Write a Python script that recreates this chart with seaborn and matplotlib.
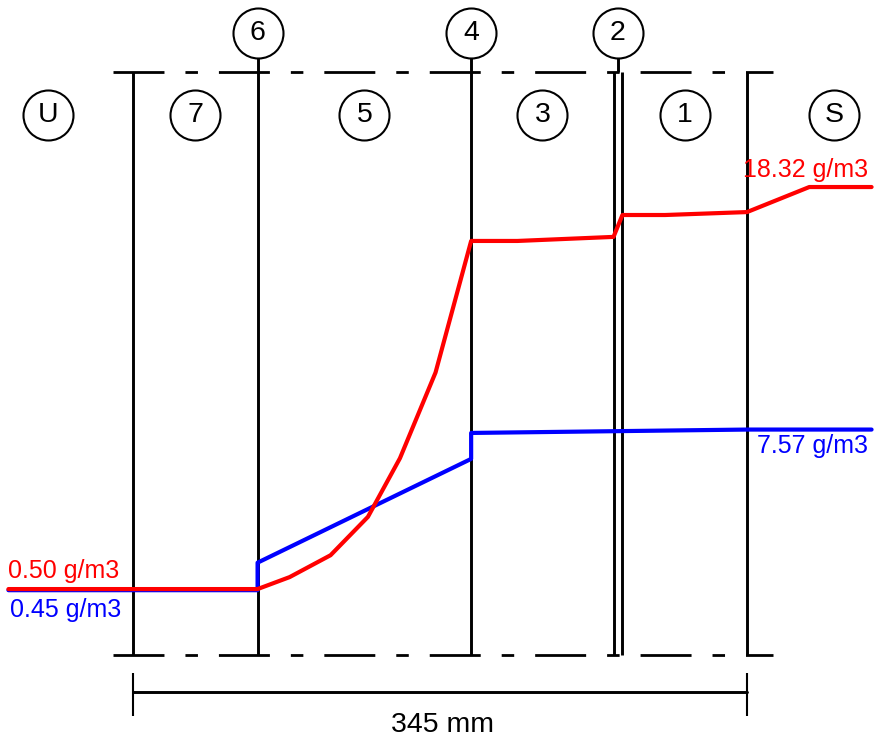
import numpy as np
import matplotlib.pyplot as plt
import seaborn as sns

# wall layers from outside (U) to inside (S), thickness in mm
layer_names = ['7', '5', '3', '2', '1']
layer_mm = [70, 120, 80, 5, 70]
foil_names = ['6', '4']          # thin foils, drawn as single lines
side_mm = 70                     # air zone shown on each side

# red: saturation vapour content, blue: actual vapour content (g/m3)
red_x = [-70, 70, 88, 111, 132, 150, 170, 190, 216, 270, 275, 299, 345, 380, 415]
red_y = [0.50, 0.50, 1.03, 2.0, 3.7, 6.3, 10.1, 15.93, 15.93, 16.11, 17.08, 17.08, 17.21, 18.32, 18.32]
blue_x = [-70, 70, 70, 190, 190, 345, 415]
blue_y = [0.45, 0.45, 1.67, 6.27, 7.42, 7.57, 7.57]

sns.set_style('white')
plt.rcParams['font.family'] = ['Liberation Sans', 'DejaVu Sans']
plt.rcParams['text.color'] = 'black'
plt.rcParams['lines.scale_dashes'] = False

edges = np.concatenate([[0], np.cumsum(layer_mm)])
total_mm = int(edges[-1])

top, bot = 23.42, -2.42      # dashed section lines
ring_y, label_y = 25.15, 21.52

fig = plt.figure(figsize=(8.74, 7.4), dpi=100)
ax = fig.add_axes([0, 0, 1, 1])
ax.set_xlim(-74.73, 416.36)
ax.set_ylim(-6.19, 26.61)
ax.axis('off')

# section outline
dash = (36.7, 15.1, 9.0, 15.1)
for yy in (top, bot):
    ax.plot([-11.2, total_mm + 14.6], [yy, yy], color='black', lw=2, dashes=dash)
ax.vlines([edges[0], edges[3], edges[4], edges[5]], bot, top, color='black', lw=2.1)
ax.vlines([edges[1], edges[2]], bot, ring_y, color='black', lw=2.1)
mid2 = (edges[3] + edges[4]) / 2
ax.vlines([mid2], top, ring_y, color='black', lw=2.1)

# moisture curves
sns.lineplot(x=blue_x, y=blue_y, sort=False, estimator=None, color='#0000ff', lw=3, ax=ax)
sns.lineplot(x=red_x, y=red_y, sort=False, estimator=None, color='#ff0000', lw=3, ax=ax)

# numbered rings
ring_x = [edges[1], edges[2], mid2]
ax.plot(ring_x, [ring_y] * 3, 'o', ms=36, mfc='white', mec='black', mew=1.5, zorder=5)
for x, name in zip(ring_x, foil_names + ['2']):
    ax.text(x, ring_y, name, ha='center', va='center', fontsize=20.5, zorder=6)

lab_x = [-48] + [(edges[i] + edges[i + 1]) / 2 for i in (0, 1, 2, 4)] + [total_mm + 49]
lab_t = ['U', '7', '5', '3', '1', 'S']
ax.plot(lab_x, [label_y] * len(lab_x), 'o', ms=36, mfc='white', mec='black', mew=1.5, zorder=5)
for x, name in zip(lab_x, lab_t):
    ax.text(x, label_y, name, ha='center', va='center', fontsize=20.5, zorder=6)

# value labels
ax.text(-70.2, red_y[0] + 0.49, f'{red_y[0]:.2f} g/m3', color='#ff0000', fontsize=18, va='baseline')
ax.text(-69.1, blue_y[0] - 1.19, f'{blue_y[0]:.2f} g/m3', color='#0000ff', fontsize=18, va='baseline')
ax.text(413, red_y[-1] + 0.45, f'{red_y[-1]:.2f} g/m3', color='#ff0000', fontsize=18, va='baseline', ha='right')
ax.text(413, blue_y[-1] - 1.04, f'{blue_y[-1]:.2f} g/m3', color='#0000ff', fontsize=18, va='baseline', ha='right')

# dimension
ax.plot([0, total_mm], [-4.06, -4.06], color='black', lw=2.1)
ax.vlines([0, total_mm], -5.12, -3.23, color='black', lw=1.5)
ax.text(total_mm / 2 + 1.5, -5.53, f'{total_mm} mm', ha='center', va='center', fontsize=20.5)

fig.savefig('out.png', dpi=100)
